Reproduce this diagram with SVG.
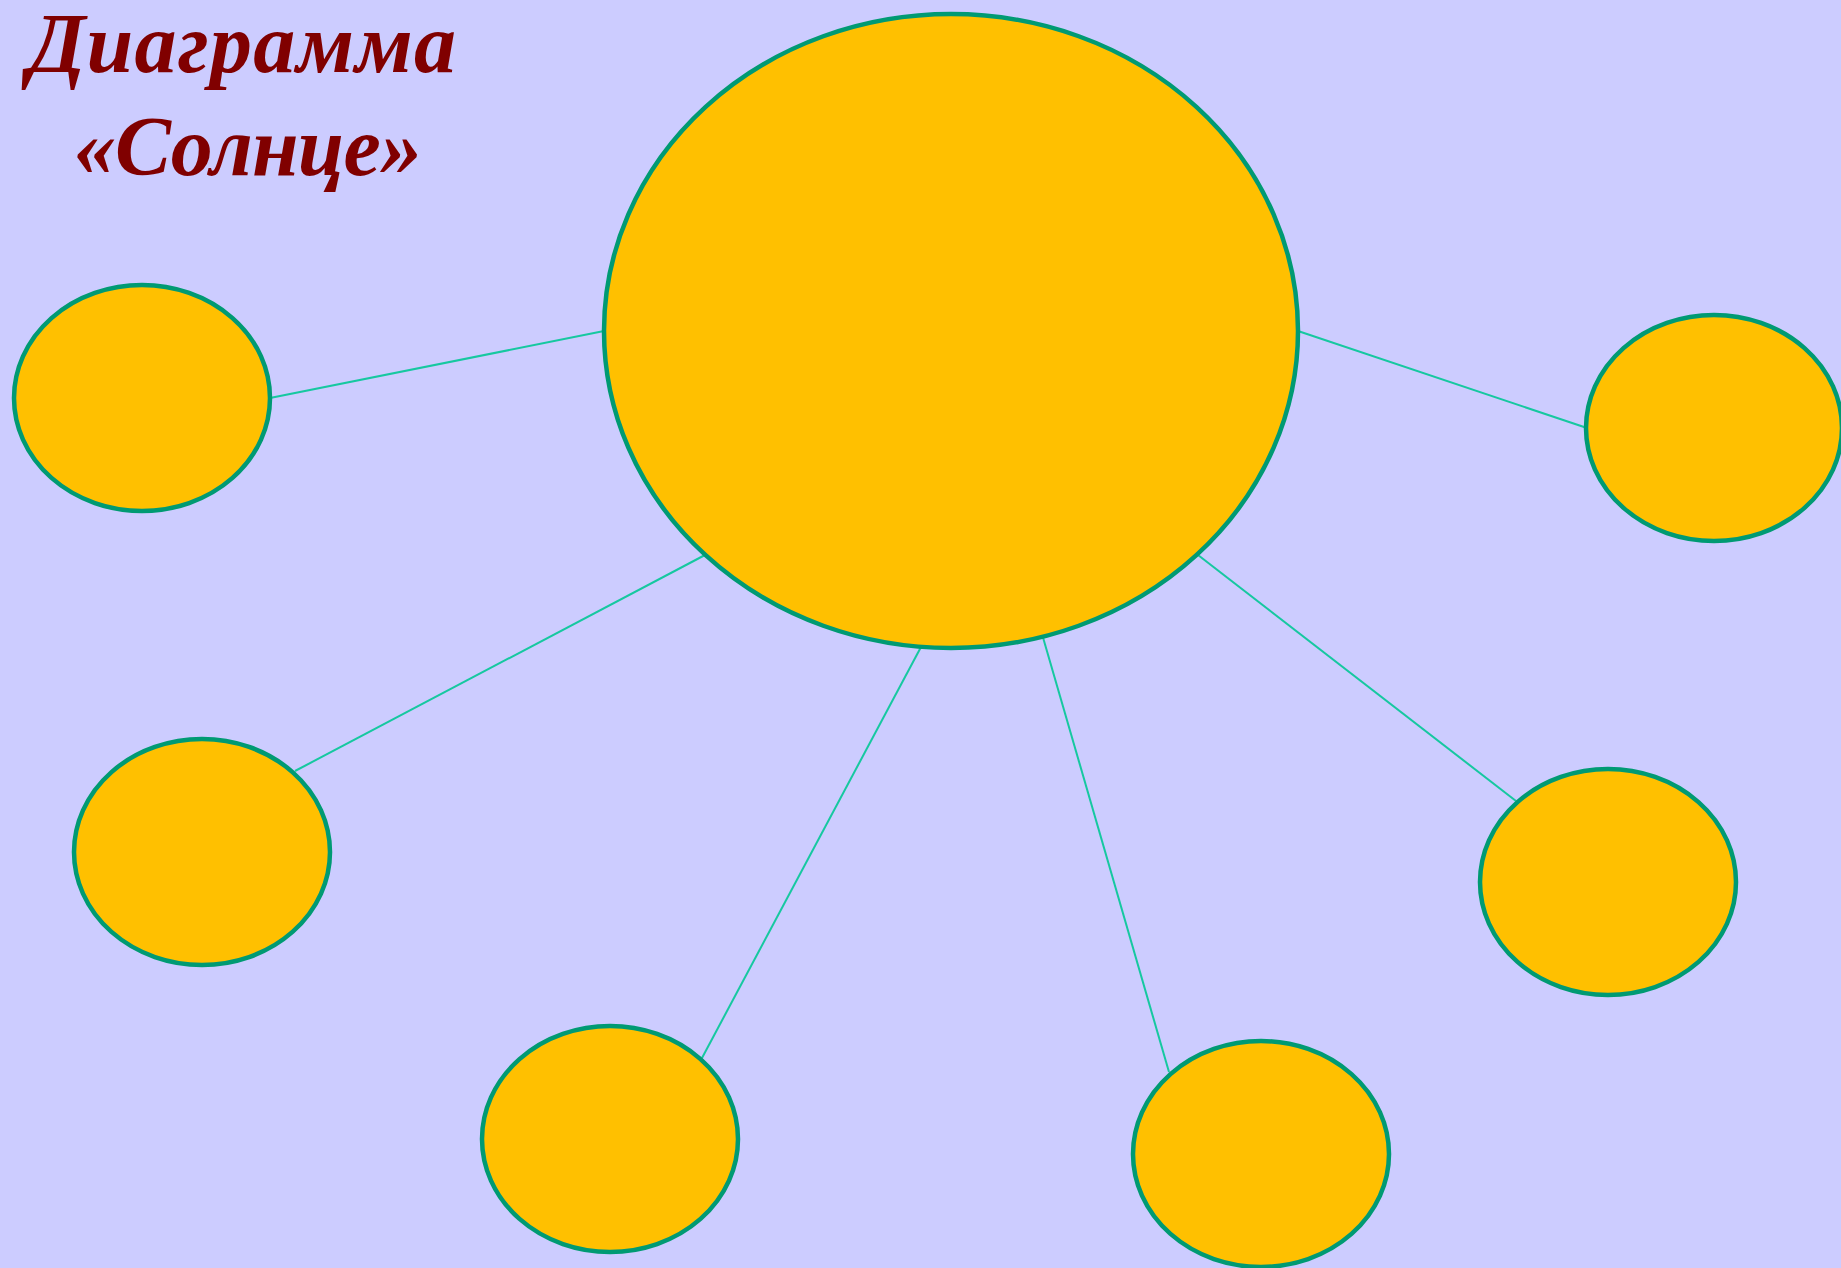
<svg xmlns="http://www.w3.org/2000/svg" width="1841" height="1268" viewBox="0 0 1841 1268">
<style>
.n{fill:#FFC000;stroke:#009A73;stroke-width:4.5}
.c{stroke:#16C8A0;stroke-width:2;fill:none}
.t{font-family:"Liberation Serif","Times New Roman",serif;font-weight:bold;font-style:italic;font-size:84px;fill:#800000;text-anchor:middle}
</style>
<rect width="1841" height="1268" fill="#CCCCFF"/>
<g id="connectors">
<line class="c" x1="270" y1="398" x2="604" y2="331"/>
<line class="c" x1="1298" y1="331" x2="1587" y2="428"/>
<line class="c" x1="295" y1="771" x2="705" y2="555"/>
<line class="c" x1="702" y1="1058" x2="921" y2="647"/>
<line class="c" x1="1042" y1="634" x2="1169" y2="1072"/>
<line class="c" x1="1198" y1="555" x2="1516" y2="801"/>
</g>
<g id="title">
<text class="t" x="242" y="72" textLength="428" lengthAdjust="spacing">Диаграмма</text>
<text class="t" x="248" y="175" textLength="348" lengthAdjust="spacing">«Солнце»</text>
</g>
<g id="sun"><ellipse class="n" cx="951" cy="331" rx="347" ry="317"/></g>
<g id="n1"><ellipse class="n" cx="142" cy="398" rx="128" ry="113"/></g>
<g id="n2"><ellipse class="n" cx="1714" cy="428" rx="128" ry="113"/></g>
<g id="n3"><ellipse class="n" cx="202" cy="852" rx="128" ry="113"/></g>
<g id="n4"><ellipse class="n" cx="610" cy="1139" rx="128" ry="113"/></g>
<g id="n5"><ellipse class="n" cx="1261" cy="1154" rx="128" ry="113"/></g>
<g id="n6"><ellipse class="n" cx="1608" cy="882" rx="128" ry="113"/></g>
</svg>
